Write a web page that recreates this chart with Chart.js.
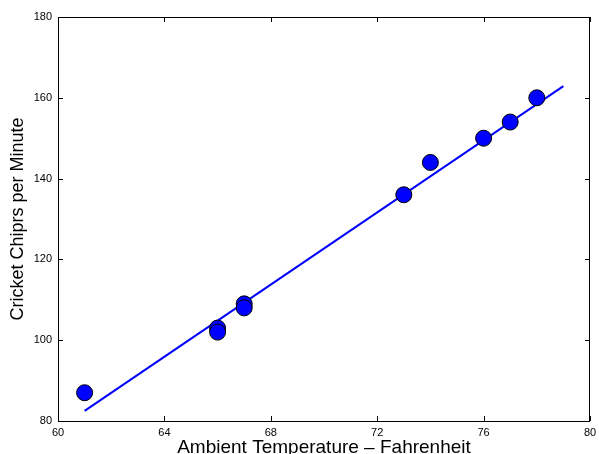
<!DOCTYPE html>
<html>
<head>
<meta charset="utf-8">
<script src="https://cdn.jsdelivr.net/npm/chart.js@4/dist/chart.umd.min.js"></script>
<style>
  html, body { margin: 0; padding: 0; background: #fff; }
  #wrap { width: 599px; height: 454px; }
</style>
</head>
<body>
<div id="wrap"><canvas id="grafico" width="599" height="454"></canvas></div>
<script>
// Dados
const temperaturas = [61, 66, 66, 67, 67, 73, 74, 76, 77, 78];
const chirps = [87, 103, 102, 109, 108, 136, 144, 150, 154, 160];

// Reta de ajuste (extremos)
const ajusteX = [61, 79];
const ajusteY = [82.5, 162.9];

const ticksX = [60, 64, 68, 72, 76, 80];
const ticksY = [80, 100, 120, 140, 160, 180];

const pontos = temperaturas.map((t, i) => ({ x: t, y: chirps[i] }));
const reta = ajusteX.map((t, i) => ({ x: t, y: ajusteY[i] }));

// Moldura com ticks para dentro (estilo matlab)
const moldura = {
    id: 'moldura',
    afterDatasetsDraw(chart) {
        const { ctx, chartArea: a, scales } = chart;
        ctx.save();
        ctx.strokeStyle = '#000';
        ctx.lineWidth = 1;
        ctx.beginPath();
        ctx.rect(a.left + 0.5, a.top + 0.5, a.right - a.left - 1, a.bottom - a.top);
        ctx.stroke();
        const tam = 5;
        ctx.beginPath();
        ticksX.forEach(v => {
            const px = Math.round(scales.x.getPixelForValue(v)) + 0.5;
            ctx.moveTo(px, a.bottom); ctx.lineTo(px, a.bottom - tam);
            ctx.moveTo(px, a.top); ctx.lineTo(px, a.top + tam);
        });
        ticksY.forEach(v => {
            const py = Math.round(scales.y.getPixelForValue(v)) + 0.5;
            ctx.moveTo(a.left, py); ctx.lineTo(a.left + tam, py);
            ctx.moveTo(a.right, py); ctx.lineTo(a.right - tam, py);
        });
        ctx.stroke();
        ctx.restore();
    }
};

const fonteTick = { family: 'Liberation Sans, Arial, sans-serif', size: 11 };

new Chart(document.getElementById('grafico'), {
    type: 'scatter',
    data: {
        datasets: [
            {
                label: 'Medidas',
                data: pontos,
                backgroundColor: '#0000ff',
                borderColor: '#000',
                borderWidth: 1,
                pointRadius: 8,
                order: 0
            },
            {
                label: 'Ajuste',
                type: 'line',
                data: reta,
                borderColor: '#0000ff',
                borderWidth: 2,
                pointRadius: 0,
                fill: false,
                order: 1
            }
        ]
    },
    options: {
        responsive: false,
        animation: false,
        devicePixelRatio: 1,
        layout: { padding: { top: 17, right: 3, left: 0, bottom: 0 } },
        plugins: { legend: { display: false }, tooltip: { enabled: false } },
        scales: {
            x: {
                type: 'linear',
                min: 60, max: 80,
                afterFit: s => { s.height = 33; s.paddingLeft = 0; s.paddingRight = 0; },
                afterBuildTicks: s => { s.ticks = ticksX.map(v => ({ value: v })); },
                grid: { display: false, drawTicks: false },
                border: { display: false },
                ticks: { color: '#000', font: fonteTick, padding: 5, maxRotation: 0 },
                title: {
                    display: true, text: 'Ambient Temperature \u2013 Fahrenheit', color: '#000',
                    font: { family: 'Liberation Sans, Arial, sans-serif', size: 19, lineHeight: 1 },
                    padding: { top: 0, bottom: -3 }
                }
            },
            y: {
                type: 'linear',
                min: 80, max: 180,
                afterFit: s => { s.width = 58; s.paddingTop = 0; s.paddingBottom = 0; },
                afterBuildTicks: s => { s.ticks = ticksY.map(v => ({ value: v })); },
                grid: { display: false, drawTicks: false },
                border: { display: false },
                ticks: { color: '#000', font: fonteTick, padding: 6 },
                title: {
                    display: true, text: 'Cricket Chiprs per Minute', color: '#000',
                    font: { family: 'Liberation Sans, Arial, sans-serif', size: 18, lineHeight: 1 },
                    padding: { top: 9 }
                }
            }
        }
    },
    plugins: [moldura]
});
</script>
</body>
</html>
